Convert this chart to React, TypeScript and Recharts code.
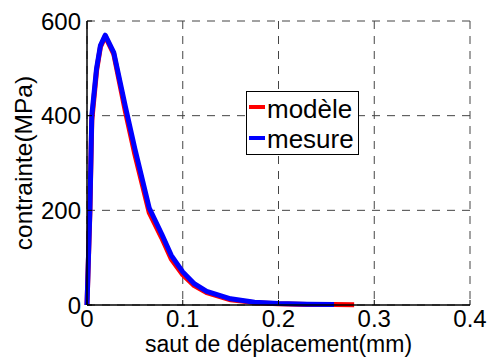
import React from "react";
import {
  CartesianGrid,
  Label,
  Legend,
  Line,
  LineChart,
  XAxis,
  YAxis,
} from "recharts";

// saut de déplacement (mm)
const X_VALUES = [
  0, 0.003, 0.005, 0.01, 0.014, 0.019, 0.028, 0.04, 0.05, 0.065, 0.078, 0.088,
  0.1, 0.112, 0.125, 0.15, 0.175, 0.2, 0.23, 0.258, 0.279,
];
// contrainte mesurée (MPa)
const MESURE = [
  0, 200, 400, 500, 548, 570, 533, 420, 330, 205, 150, 105, 70, 45, 29, 13, 6,
  3, 1.5, 1, null,
];
// contrainte du modèle (MPa)
const MODELE = [
  0, 195, 390, 495, 545, 568, 530, 410, 318, 195, 142, 97, 64, 41, 26, 11, 5,
  2.5, 1.2, 0.8, 0.5,
];
const X_TICKS = [0, 0.1, 0.2, 0.3, 0.4];
const Y_TICKS = [0, 200, 400, 600];
const SERIES = [
  { key: "modele", label: "modèle", color: "#ff0000" },
  { key: "mesure", label: "mesure", color: "#0000ff" },
];

const data = X_VALUES.map((x, i) => ({ x, mesure: MESURE[i], modele: MODELE[i] }));

const FONT = "'Liberation Sans', Arial, sans-serif";

function BottomTick({ x, y, payload }: any) {
  return (
    <g>
      <line x1={x} x2={x} y1={y} y2={y - 5} stroke="#000" />
      <text x={x} y={y + 21.5} textAnchor="middle" fontSize={24} fontFamily={FONT} fill="#000">
        {String(payload.value)}
      </text>
    </g>
  );
}

function TopTick({ x, y }: any) {
  return <line x1={x} x2={x} y1={y} y2={y + 5} stroke="#000" />;
}

function LeftTick({ x, y, payload }: any) {
  return (
    <g>
      <line x1={x} x2={x + 5} y1={y} y2={y} stroke="#000" />
      <text x={x - 6} y={y + 8.5} textAnchor="end" fontSize={24} fontFamily={FONT} fill="#000">
        {String(payload.value)}
      </text>
    </g>
  );
}

function RightTick({ x, y }: any) {
  return <line x1={x} x2={x - 5} y1={y} y2={y} stroke="#000" />;
}

function LegendBox() {
  return (
    <svg width={114} height={65} style={{ display: "block" }}>
      <rect x={0.5} y={0.5} width={112} height={63} fill="#fff" stroke="#000" />
      {SERIES.map((s, i) => (
        <g key={s.key}>
          <line x1={3} x2={19} y1={16 + i * 31} y2={16 + i * 31} stroke={s.color} strokeWidth={4} />
          <text x={21} y={27 + i * 30} fontSize={26} fontFamily={FONT} fill="#000">
            {s.label}
          </text>
        </g>
      ))}
    </svg>
  );
}

export default function App() {
  return (
    <div style={{ position: "fixed", left: 0, top: 0, width: 494, height: 358, background: "#fff" }}>
      <LineChart
        width={494}
        height={358}
        data={data}
        margin={{ top: 21, right: 24, bottom: 0, left: 0 }}
      >
        <CartesianGrid stroke="#444" strokeDasharray="8 7" />
        <XAxis
          dataKey="x"
          type="number"
          domain={[0, 0.4]}
          ticks={X_TICKS}
          height={53}
          tickSize={0}
          tickMargin={0}
          tickLine={false}
          axisLine={{ stroke: "#000", strokeWidth: 1.5 }}
          tick={<BottomTick />}
          interval={0}
        >
          <Label
            content={({ viewBox }: any) => (
              <text
                x={viewBox.x + viewBox.width / 2}
                y={viewBox.y + 46.5}
                textAnchor="middle"
                fontSize={23}
                fontFamily={FONT}
                fill="#000"
              >
                saut de déplacement(mm)
              </text>
            )}
          />
        </XAxis>
        <XAxis
          xAxisId="top"
          dataKey="x"
          type="number"
          orientation="top"
          domain={[0, 0.4]}
          ticks={X_TICKS}
          height={0}
          tickSize={0}
          tickMargin={0}
          tickLine={false}
          axisLine={{ stroke: "#000" }}
          tick={<TopTick />}
          interval={0}
        />
        <YAxis
          type="number"
          domain={[0, 600]}
          ticks={Y_TICKS}
          width={87}
          tickSize={0}
          tickMargin={0}
          tickLine={false}
          axisLine={{ stroke: "#000", strokeWidth: 1.5 }}
          tick={<LeftTick />}
          interval={0}
        >
          <Label
            content={({ viewBox }: any) => {
              const cx = viewBox.x + 32;
              const cy = viewBox.y + viewBox.height / 2;
              return (
                <text
                  x={cx}
                  y={cy}
                  transform={`rotate(-90 ${cx} ${cy})`}
                  textAnchor="middle"
                  fontSize={24.5}
                  fontFamily={FONT}
                  fill="#000"
                >
                  contrainte(MPa)
                </text>
              );
            }}
          />
        </YAxis>
        <YAxis
          yAxisId="right"
          type="number"
          orientation="right"
          domain={[0, 600]}
          ticks={Y_TICKS}
          width={0}
          tickSize={0}
          tickMargin={0}
          tickLine={false}
          axisLine={{ stroke: "#000" }}
          tick={<RightTick />}
          interval={0}
        />
        <Legend
          layout="vertical"
          align="center"
          verticalAlign="middle"
          wrapperStyle={{ left: 246, top: 91, width: 114, height: 65 }}
          content={() => <LegendBox />}
        />
        {SERIES.map((s) => (
          <Line
            key={s.key}
            dataKey={s.key}
            type="linear"
            stroke={s.color}
            strokeWidth={5}
            strokeLinejoin="round"
            dot={false}
            activeDot={false}
            connectNulls={false}
            isAnimationActive={false}
          />
        ))}
      </LineChart>
    </div>
  );
}
